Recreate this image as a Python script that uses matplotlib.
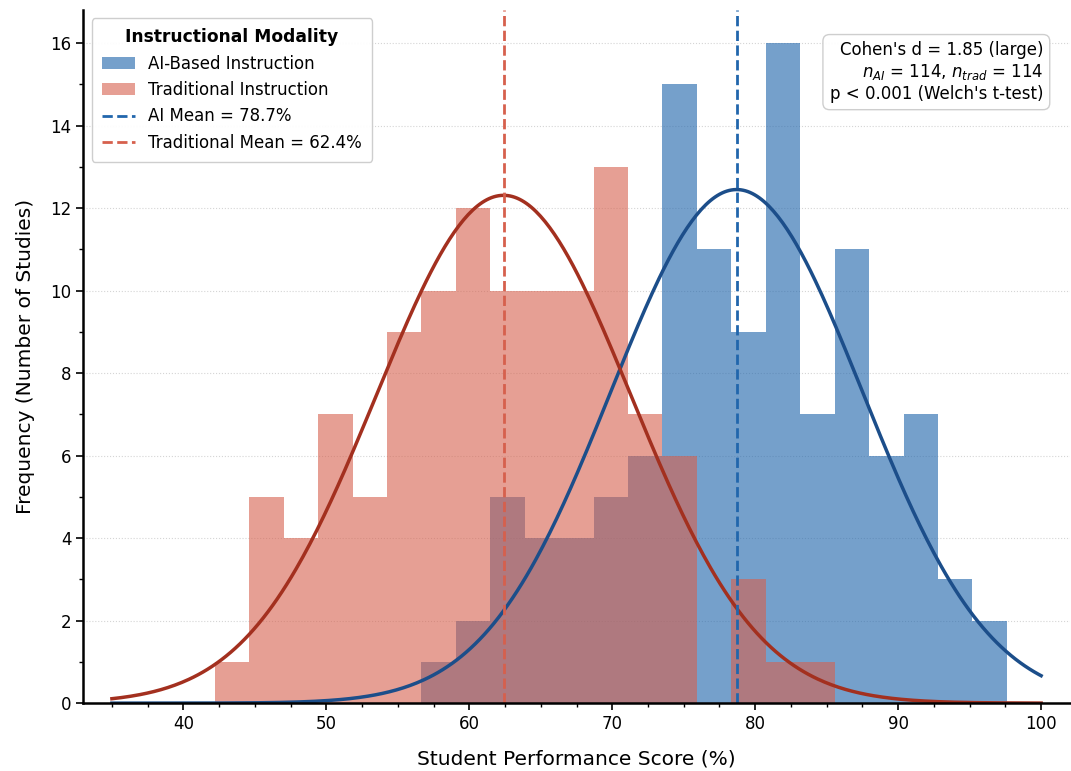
import numpy as np
import matplotlib
matplotlib.use("Agg")
import matplotlib.pyplot as plt
from matplotlib.ticker import MultipleLocator

# shared histogram bins (23 bins from 42.2 to 97.6)
bin_edges = np.linspace(42.2, 97.6, 24)

# counts per bin
ai_counts = [0, 0, 0, 0, 0, 0, 1, 2, 5, 4, 4, 5, 6, 15, 11, 9, 16, 7, 11, 6, 7, 3, 2]
trad_counts = [1, 5, 4, 7, 5, 9, 10, 12, 10, 10, 10, 13, 7, 6, 0, 3, 1, 1, 0, 0, 0, 0, 0]

ai_mean, ai_sd = 78.7, 8.8
trad_mean, trad_sd = 62.4, 8.9
n_ai, n_trad = 114, 114

ai_color = "#2166ac"
trad_color = "#d6604d"
ai_curve = "#1c4e8a"
trad_curve = "#a3301f"


def normal_curve(x, mean, sd, n, width):
    """Expected counts per bin for a normal fit."""
    return n * width * np.exp(-0.5 * ((x - mean) / sd) ** 2) / (sd * np.sqrt(2 * np.pi))


fig = plt.figure(figsize=(10.71, 7.71), dpi=100)
ax = fig.add_axes([0.0778, 0.088, 0.921, 0.899])

centers = (bin_edges[:-1] + bin_edges[1:]) / 2
width = bin_edges[1] - bin_edges[0]

ax.hist(centers, bins=bin_edges, weights=ai_counts, color=ai_color, alpha=0.62,
        label="AI-Based Instruction")
ax.hist(centers, bins=bin_edges, weights=trad_counts, color=trad_color, alpha=0.6,
        label="Traditional Instruction")

xs = np.linspace(35, 100, 400)
ax.plot(xs, normal_curve(xs, ai_mean, ai_sd, n_ai, width), color=ai_curve, lw=2.5)
ax.plot(xs, normal_curve(xs, trad_mean, trad_sd, n_trad, width), color=trad_curve, lw=2.5)

ax.axvline(ai_mean, color=ai_color, ls="--", lw=2, label=f"AI Mean = {ai_mean}%")
ax.axvline(trad_mean, color=trad_color, ls="--", lw=2, label=f"Traditional Mean = {trad_mean}%")

ax.set_xlim(33, 102)
ax.set_ylim(0, 16.8)
ax.xaxis.set_minor_locator(MultipleLocator(2.5))
ax.yaxis.set_major_locator(MultipleLocator(2))
ax.yaxis.set_minor_locator(MultipleLocator(1))
ax.tick_params(axis="both", which="major", labelsize=12, length=5, width=1.2)
ax.tick_params(axis="both", which="minor", length=3, width=1)

ax.grid(axis="y", ls=":", color="#d5d5d5", lw=0.8)
ax.set_axisbelow(True)
for side in ["top", "right"]:
    ax.spines[side].set_visible(False)
for side in ["left", "bottom"]:
    ax.spines[side].set_linewidth(1.8)

ax.set_xlabel("Student Performance Score (%)", fontsize=14.5, labelpad=12)
ax.set_ylabel("Frequency (Number of Studies)", fontsize=14.5, labelpad=11)

leg = ax.legend(loc="upper left", fontsize=12, title="Instructional Modality",
                title_fontproperties={"weight": "bold", "size": 12.3},
                framealpha=0.95, edgecolor="#cccccc", borderpad=0.6)

stats = (f"Cohen's d = 1.85 (large)\n"
         f"$n_{{AI}}$ = {n_ai}, $n_{{trad}}$ = {n_trad}\n"
         f"p < 0.001 (Welch's t-test)")
ax.text(0.973, 0.955, stats, transform=ax.transAxes, ha="right", va="top", fontsize=12,
        bbox=dict(boxstyle="round,pad=0.4", facecolor="white", edgecolor="#cccccc", alpha=0.95))

fig.savefig("out.png", dpi=100)
